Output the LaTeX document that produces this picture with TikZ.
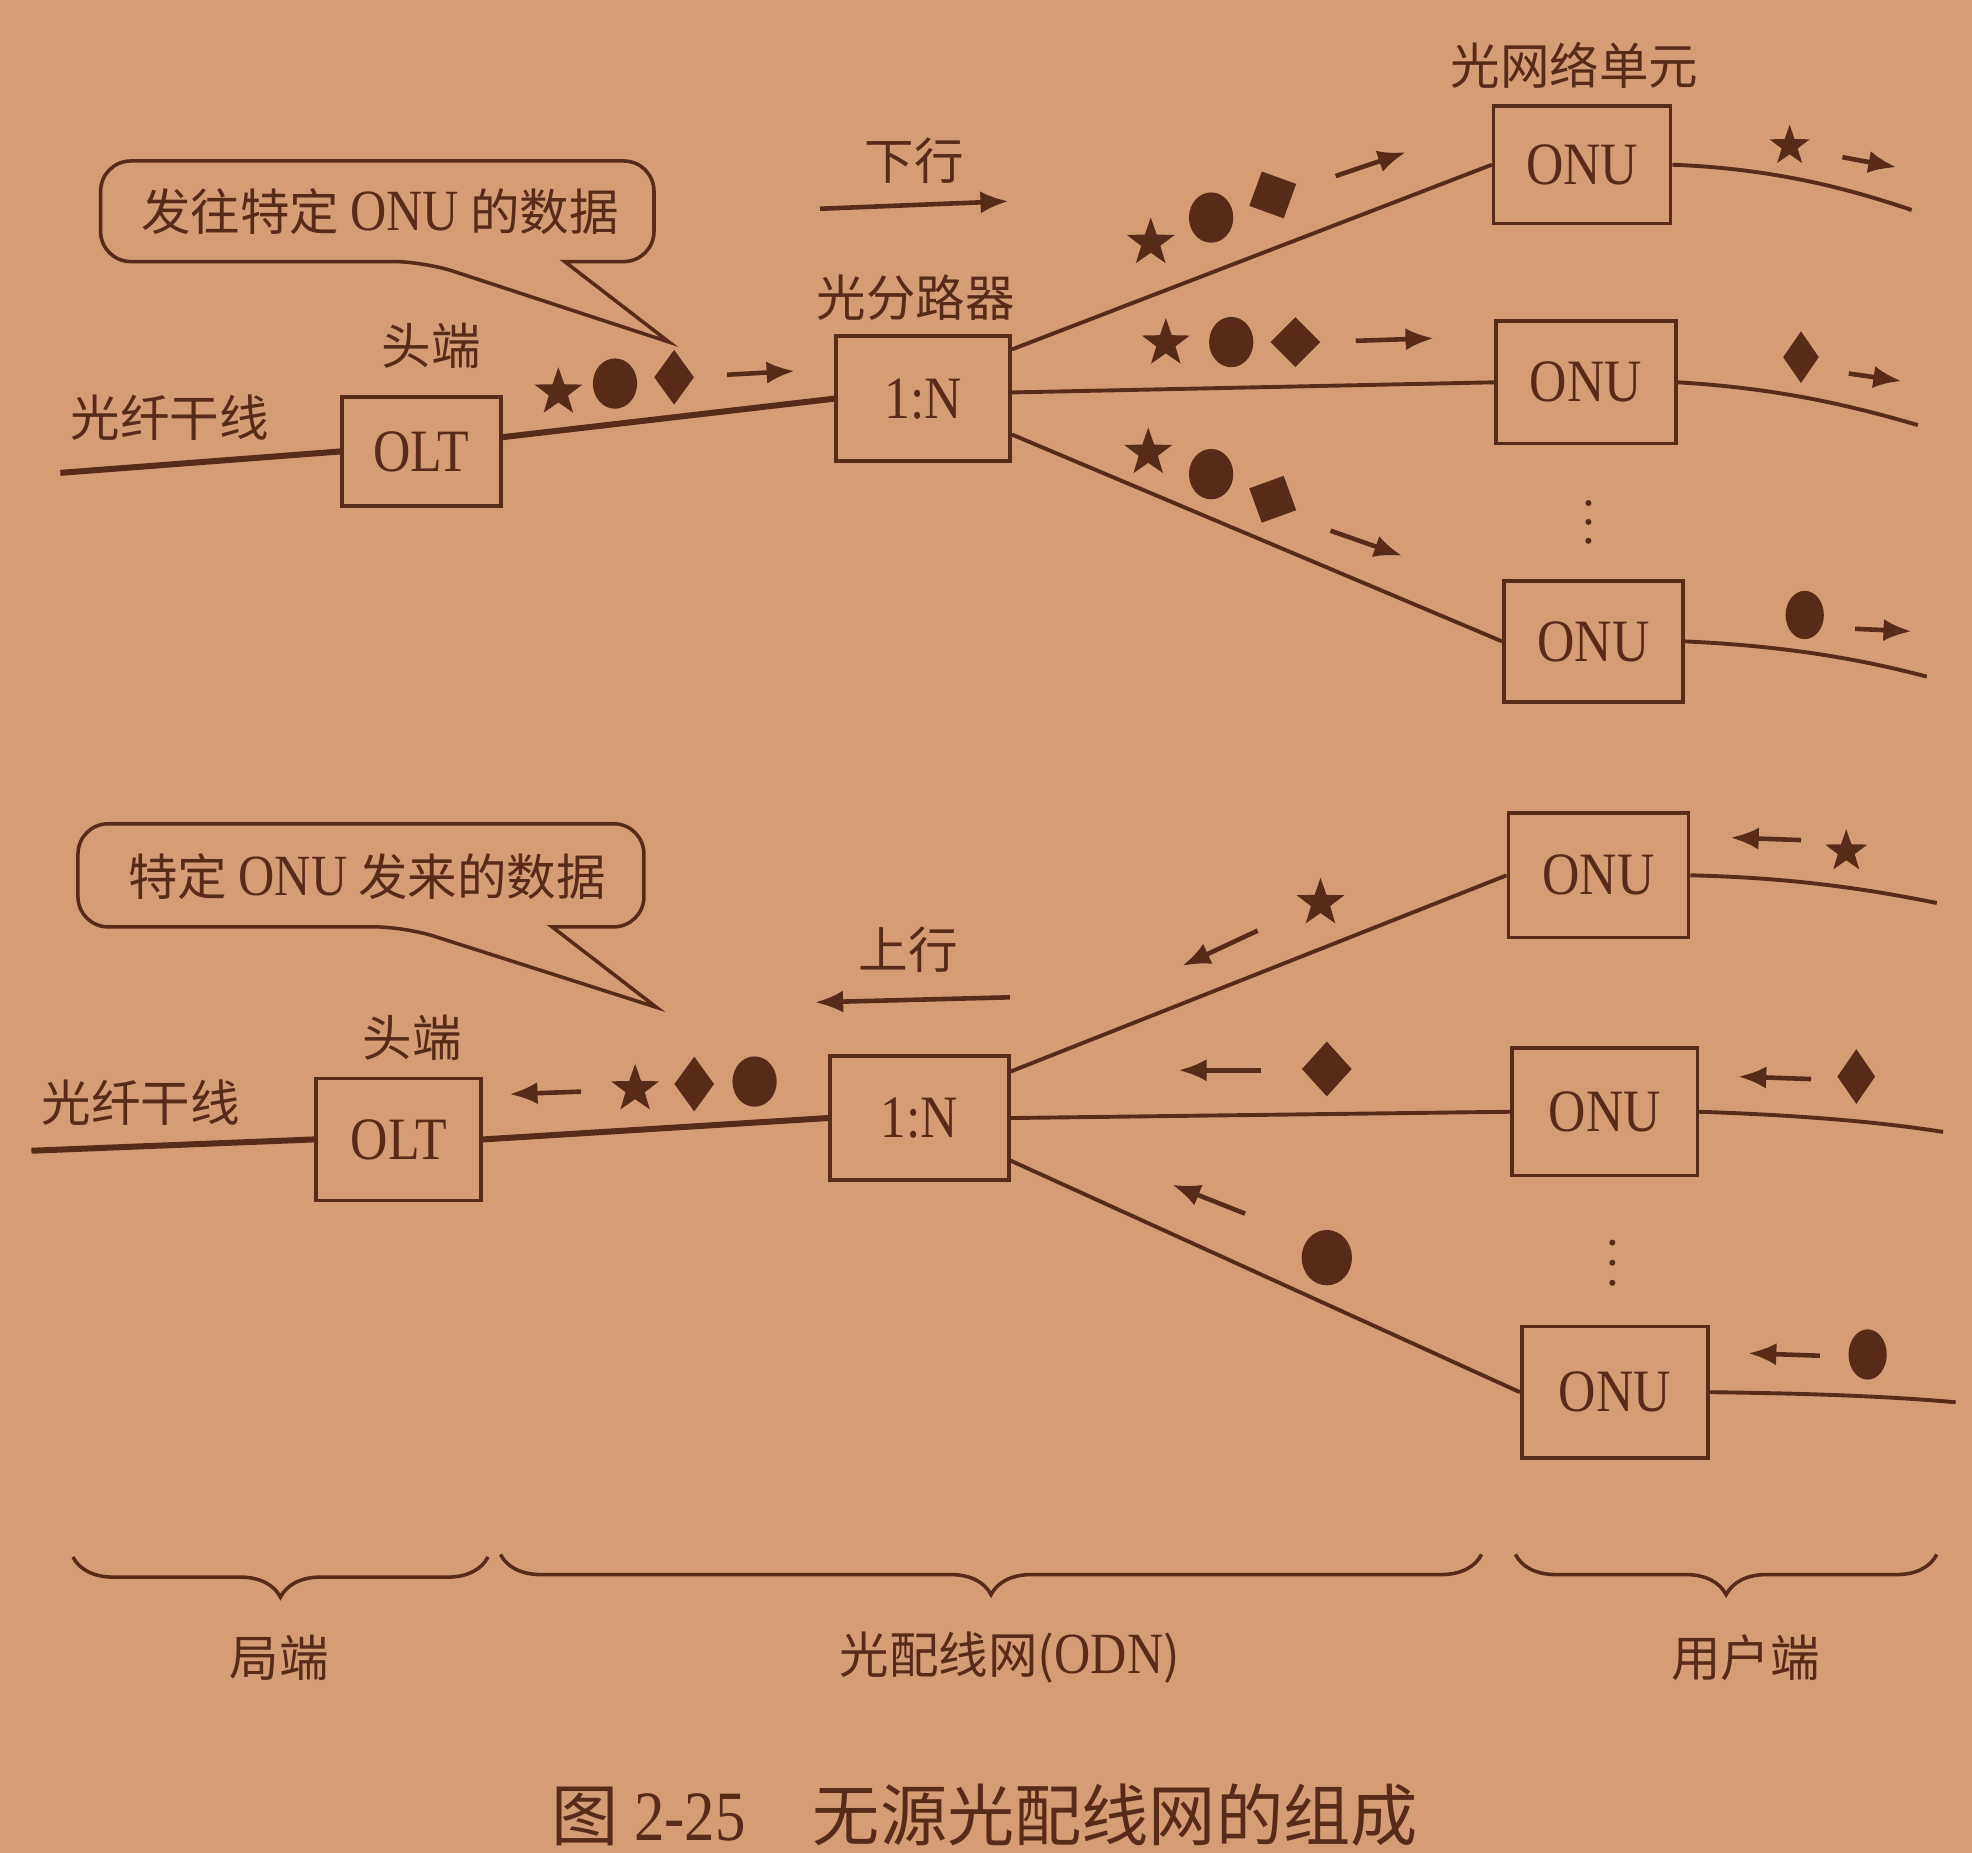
\documentclass[tikz,border=0pt]{standalone}
\usepackage{fontspec}
\setmainfont{Liberation Serif}
\newfontfamily\cjk{Noto Sans CJK SC}
\newfontfamily\boxfont[FakeStretch=0.86]{Liberation Serif}
\usetikzlibrary{shapes.geometric,arrows.meta,decorations.pathreplacing}
\definecolor{paper}{RGB}{214,157,117}
\definecolor{ink}{RGB}{88,42,24}
\newcommand{\latin}[1]{{\boxfont\fontsize{16.5}{17}\selectfont #1}}
\tikzstyle{unitbox} = [rectangle, draw=ink, line width=1pt, text=ink, font=\boxfont\fontsize{17}{17}\selectfont]
\tikzstyle{tag} = [text=ink, inner sep=1pt, font=\cjk\fontsize{14}{14}\selectfont]
\tikzstyle{fibre} = [draw=ink, line width=1.1pt]
\tikzstyle{trunk} = [draw=ink, line width=1.7pt]
\tikzstyle{flow} = [draw=ink, line width=1.3pt, -{Latex[length=2.8mm,width=2.2mm]}]
\tikzset{
  star sym/.style={star, star points=5, star point ratio=2.5, fill=ink, inner sep=0pt, minimum size=0.5cm},
  dot sym/.style={ellipse, fill=ink, inner sep=0pt, minimum width=0.44cm, minimum height=0.5cm},
  gem sym/.style={diamond, fill=ink, inner sep=0pt, minimum width=0.4cm, minimum height=0.55cm},
  bubble/.style={draw=ink, line width=1pt},
  span/.style={draw=ink, line width=1pt, decorate, decoration={brace, amplitude=0.4cm}}
}

\begin{document}
\begin{tikzpicture}[x=0.0125cm, y=-0.0125cm]
    \fill[paper] (0,0) rectangle (1568,1473);
    \useasboundingbox (0,0) rectangle (1568,1473);

    % downstream
    \node (olt1)[unitbox, minimum width=1.58cm, minimum height=1.08cm] at (335,359) {OLT};
    \node (head1)[tag] at (343,275) {头端};
    \node (trunklbl1)[tag] at (135,332) {光纤干线};
    \coordinate (in1) at (48,376);
    \node (split1)[unitbox, minimum width=1.73cm, minimum height=1.24cm] at (734,317) {1:N};
    \node (splitlbl1)[tag] at (728,237) {光分路器};
    \node (down)[tag] at (727,128) {下行};
    \draw[flow] (652,166) -- (802,160);
    \node (onu1a)[unitbox, minimum width=1.76cm, minimum height=1.17cm] at (1258,131) {ONU};
    \node (onu1b)[unitbox, minimum width=1.79cm, minimum height=1.22cm] at (1261,304) {ONU};
    \node (onu1c)[unitbox, minimum width=1.78cm, minimum height=1.2cm] at (1267,510) {ONU};
    \node (onulbl)[tag] at (1252,52) {光网络单元};
    \fill[ink] (1263,400) circle[radius=2.4] (1263,415) circle[radius=2.4] (1263,430) circle[radius=2.4];

    \draw[bubble] (449,208) [rounded corners=0.3cm] -- (520,208) -- (520,128) -- (80,128) -- (80,208) -- (337,208) [sharp corners] -- (532,272) -- cycle;
    \node (note1)[tag] at (302,168) {发往特定 \latin{ONU} 的数据};

    \draw[trunk] (in1) -- (olt1.west);
    \draw[trunk] (olt1.10) -- (split1.west);
    \draw[fibre] (split1.29) -- (onu1a.west);
    \draw[fibre] (split1.4) -- (onu1b.west);
    \draw[fibre] (split1.-22) -- (onu1c.west);
    \coordinate (out1a) at (1520,167);
    \coordinate (out1b) at (1525,338);
    \coordinate (out1c) at (1532,538);
    \draw[fibre] (onu1a.east) .. controls (1410,134) and (1470,150) .. (out1a);
    \draw[fibre] (onu1b.east) .. controls (1420,309) and (1480,325) .. (out1b);
    \draw[fibre] (onu1c.east) .. controls (1430,514) and (1490,527) .. (out1c);

    \node (st1)[star sym] at (444,312) {};
    \node (ci1)[dot sym] at (489,305) {};
    \node (di1)[gem sym] at (536,300) {};
    \draw[flow] (578,298) -- (632,295);

    \node (st1a)[star sym] at (915,193) {};
    \node (ci1a)[dot sym] at (963,173) {};
    \node (di1a)[gem sym, minimum width=0.52cm, minimum height=0.52cm, rotate=25] at (1012,155) {};
    \draw[flow] (1062,140) -- (1118,121);
    \node (st1b)[star sym] at (927,273) {};
    \node (ci1b)[dot sym] at (979,272) {};
    \node (di1b)[gem sym, minimum width=0.5cm, minimum height=0.5cm] at (1030,272) {};
    \draw[flow] (1078,271) -- (1140,269);
    \node (st1c)[star sym] at (913,360) {};
    \node (ci1c)[dot sym] at (963,377) {};
    \node (di1c)[gem sym, minimum width=0.52cm, minimum height=0.52cm, rotate=-25] at (1012,397) {};
    \draw[flow] (1058,422) -- (1115,442);

    \node (st1d)[star sym, minimum size=0.42cm] at (1423,116) {};
    \draw[flow] (1465,125) -- (1508,133);
    \node (di1d)[gem sym, minimum width=0.36cm, minimum height=0.52cm] at (1432,284) {};
    \draw[flow] (1470,297) -- (1512,303);
    \node (ci1d)[dot sym, minimum width=0.38cm, minimum height=0.48cm] at (1435,489) {};
    \draw[flow] (1475,500) -- (1520,502);

    % upstream
    \node (olt2)[unitbox, minimum width=1.64cm, minimum height=1.21cm] at (317,906) {OLT};
    \node (head2)[tag] at (328,825) {头端};
    \node (trunklbl2)[tag] at (112,877) {光纤干线};
    \coordinate (in2) at (25,915);
    \node (split2)[unitbox, minimum width=1.78cm, minimum height=1.23cm] at (731,889) {1:N};
    \node (up)[tag] at (722,755) {上行};
    \draw[flow] (803,793) -- (648,797);
    \node (onu2a)[unitbox, minimum width=1.79cm, minimum height=1.24cm] at (1271,696) {ONU};
    \node (onu2b)[unitbox, minimum width=1.84cm, minimum height=1.27cm] at (1276,884) {ONU};
    \node (onu2c)[unitbox, minimum width=1.85cm, minimum height=1.31cm] at (1284,1107) {ONU};
    \fill[ink] (1282,988) circle[radius=2.4] (1282,1004) circle[radius=2.4] (1282,1020) circle[radius=2.4];

    \draw[bubble] (439,737) [rounded corners=0.3cm] -- (512,737) -- (512,655) -- (62,655) -- (62,737) -- (322,737) [sharp corners] -- (522,801) -- cycle;
    \node (note2)[tag] at (292,697) {特定 \latin{ONU} 发来的数据};

    \draw[trunk] (in2) -- (olt2.west);
    \draw[trunk] (olt2.east) -- (split2.west);
    \draw[fibre] (split2.27) -- (onu2a.west);
    \draw[fibre] (split2.east) -- (onu2b.west);
    \draw[fibre] (split2.-25) -- (onu2c.west);
    \coordinate (out2a) at (1540,718);
    \coordinate (out2b) at (1545,900);
    \coordinate (out2c) at (1555,1115);
    \draw[fibre] (onu2a.east) .. controls (1430,698) and (1490,708) .. (out2a);
    \draw[fibre] (onu2b.east) .. controls (1440,887) and (1500,893) .. (out2b);
    \draw[fibre] (onu2c.east) .. controls (1450,1108) and (1510,1111) .. (out2c);

    \draw[flow] (462,868) -- (405,870);
    \node (st2)[star sym] at (505,866) {};
    \node (di2)[gem sym] at (552,862) {};
    \node (ci2)[dot sym] at (600,860) {};

    \draw[flow] (1000,740) -- (940,768);
    \node (st2a)[star sym] at (1050,718) {};
    \draw[flow] (1003,851) -- (937,851);
    \node (di2b)[gem sym, minimum width=0.5cm, minimum height=0.55cm] at (1055,850) {};
    \draw[flow] (990,965) -- (932,942);
    \node (ci2c)[dot sym, minimum width=0.5cm, minimum height=0.55cm] at (1055,1000) {};

    \draw[flow] (1432,668) -- (1376,666);
    \node (st2d)[star sym, minimum size=0.44cm] at (1468,677) {};
    \draw[flow] (1440,858) -- (1382,856);
    \node (di2d)[gem sym, minimum width=0.38cm, minimum height=0.55cm] at (1476,856) {};
    \draw[flow] (1447,1078) -- (1390,1076);
    \node (ci2d)[dot sym, minimum width=0.38cm, minimum height=0.5cm] at (1485,1077) {};

    % parts
    \coordinate (ca) at (58,1238);
    \coordinate (cb) at (388,1238);
    \coordinate (oa) at (398,1236);
    \coordinate (ob) at (1178,1236);
    \coordinate (ua) at (1205,1236);
    \coordinate (ub) at (1540,1236);
    \draw[span] (cb) -- (ca);
    \draw[span] (ob) -- (oa);
    \draw[span] (ub) -- (ua);
    \node (central)[tag] at (222,1318) {局端};
    \node (odn)[tag] at (803,1318) {光配线网(\latin{ODN})};
    \node (user)[tag] at (1388,1318) {用户端};

    \node (caption)[text=ink, font=\cjk\fontsize{19}{19}\selectfont] at (783,1443) {图 {\boxfont\fontsize{20}{20}\selectfont 2-25}\quad 无源光配线网的组成};

  \end{tikzpicture}
\end{document}
